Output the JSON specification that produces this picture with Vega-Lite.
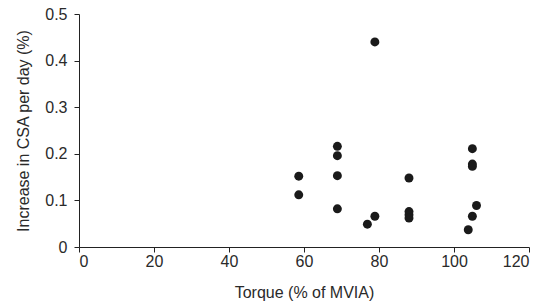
{
  "$schema": "https://vega.github.io/schema/vega-lite/v6.json",
  "width": 450,
  "height": 233,
  "autosize": {"type": "none"},
  "padding": {"left": 79, "top": 14, "right": 27, "bottom": 58},
  "background": "white",
  "config": {
    "view": {"stroke": null},
    "font": "Liberation Sans"
  },
  "data": {
    "values": [
      {"torque": 58.6, "csa": 0.152},
      {"torque": 58.6, "csa": 0.112},
      {"torque": 68.9, "csa": 0.216},
      {"torque": 68.9, "csa": 0.196},
      {"torque": 68.9, "csa": 0.153},
      {"torque": 68.9, "csa": 0.082},
      {"torque": 76.9, "csa": 0.049},
      {"torque": 78.9, "csa": 0.066},
      {"torque": 78.9, "csa": 0.44},
      {"torque": 88.0, "csa": 0.148},
      {"torque": 88.0, "csa": 0.076},
      {"torque": 88.0, "csa": 0.069},
      {"torque": 88.0, "csa": 0.062},
      {"torque": 104.9, "csa": 0.211},
      {"torque": 104.9, "csa": 0.178},
      {"torque": 104.9, "csa": 0.173},
      {"torque": 106.0, "csa": 0.089},
      {"torque": 104.9, "csa": 0.066},
      {"torque": 103.8, "csa": 0.037}
    ]
  },
  "mark": {"type": "circle", "size": 80, "color": "#1a1a1a", "opacity": 1},
  "encoding": {
    "x": {
      "field": "torque",
      "type": "quantitative",
      "scale": {"domain": [0, 120], "nice": false, "zero": true},
      "axis": {
        "title": "Torque (% of MVIA)",
        "values": [0, 20, 40, 60, 80, 100, 120],
        "grid": false,
        "domainColor": "#222",
        "tickColor": "#222",
        "tickSize": 5,
        "labelFontSize": 16,
        "labelColor": "#2a2a2a",
        "labelPadding": 1,
        "titleFontSize": 16,
        "titleFontWeight": "normal",
        "titleColor": "#2a2a2a",
        "titlePadding": 15
      }
    },
    "y": {
      "field": "csa",
      "type": "quantitative",
      "scale": {"domain": [0, 0.5], "nice": false},
      "axis": {
        "title": "Increase in CSA per day (%)",
        "values": [0, 0.1, 0.2, 0.3, 0.4, 0.5],
        "labelExpr": "datum.value == 0 ? '0' : format(datum.value, '.1f')",
        "grid": false,
        "domainColor": "#222",
        "tickColor": "#222",
        "tickSize": 5,
        "labelFontSize": 16,
        "labelColor": "#2a2a2a",
        "labelPadding": 7,
        "titleFontSize": 16,
        "titleFontWeight": "normal",
        "titleColor": "#2a2a2a",
        "titlePadding": 13
      }
    }
  }
}
